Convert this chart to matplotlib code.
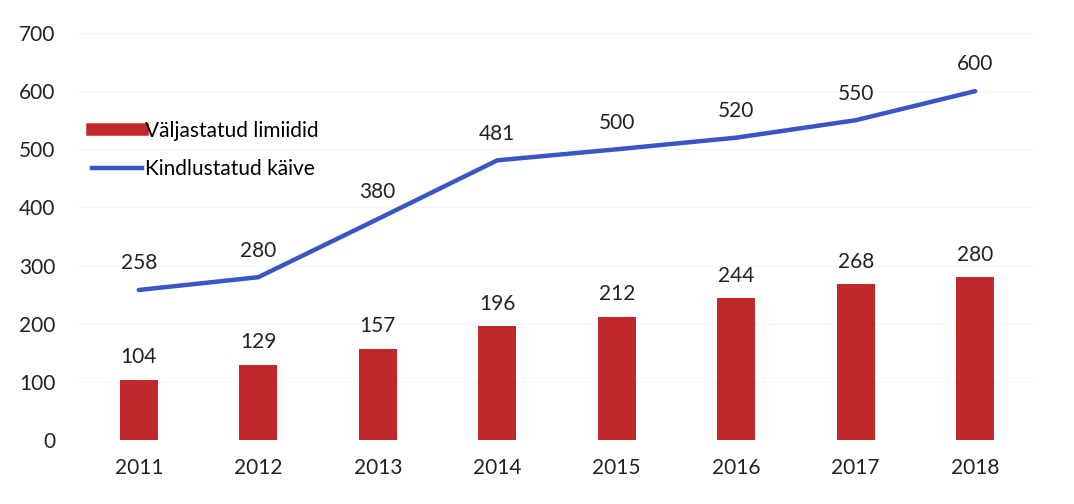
import matplotlib
matplotlib.use("Agg")
import matplotlib.pyplot as plt
from matplotlib.lines import Line2D

years = ["2011", "2012", "2013", "2014", "2015", "2016", "2017", "2018"]
limits = [104, 129, 157, 196, 212, 244, 268, 280]
turnover = [258, 280, 380, 481, 500, 520, 550, 600]

RED = "#c0282b"
BLUE = "#3a55c4"
FS = 15
plt.rcParams["font.family"] = ["Lato", "DejaVu Sans"]

fig = plt.figure(figsize=(10.74, 5.04), dpi=100)
ax = fig.add_axes([0.0736, 0.127, 0.89, 0.8075])

x = list(range(len(years)))
ax.bar(x, limits, width=0.32, color=RED, zorder=2)
ax.plot(x, turnover, color=BLUE, linewidth=3.2, zorder=3, solid_capstyle="round")

for xi, v in zip(x, limits):
    ax.annotate(str(v), (xi, v), xytext=(0, 9), textcoords="offset points",
                ha="center", va="bottom", fontsize=FS, color="#222222")
for xi, v in zip(x, turnover):
    ax.annotate(str(v), (xi, v), xytext=(0, 12), textcoords="offset points",
                ha="center", va="bottom", fontsize=FS, color="#222222")

ax.set_xlim(-0.5, len(years) - 0.5)
ax.set_ylim(0, 700)
ax.set_yticks(range(0, 701, 100))
ax.set_xticks(x)
ax.set_xticklabels(years)
ax.tick_params(axis="both", length=0, labelsize=FS, colors="#222222")
ax.tick_params(axis="y", pad=17)
ax.tick_params(axis="x", pad=13)
for s in ax.spines.values():
    s.set_visible(False)
ax.yaxis.grid(True, color="#f5f5f5", linewidth=0.8, zorder=0)
ax.set_axisbelow(True)

handles = [Line2D([0], [0], color=RED, linewidth=9),
           Line2D([0], [0], color=BLUE, linewidth=3.2)]
ax.legend(handles, ["Väljastatud limiidid", "Kindlustatud käive"],
          loc="upper left", bbox_to_anchor=(0.005, 0.805), borderaxespad=0,
          frameon=False, fontsize=FS, handlelength=2.4, handletextpad=0.15,
          labelspacing=0.9)

fig.savefig("out.png", dpi=100)
